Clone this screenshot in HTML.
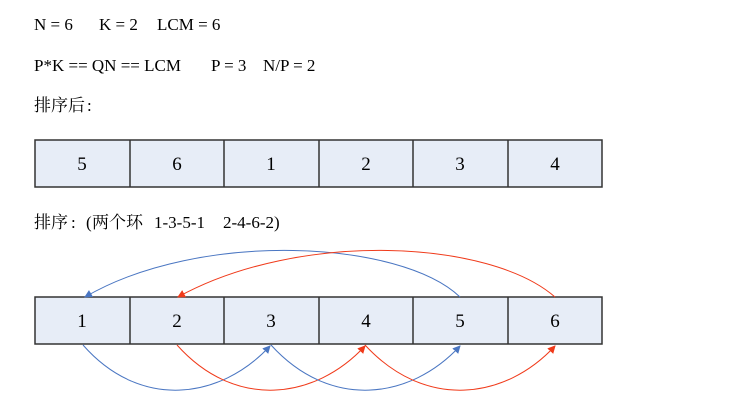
<!DOCTYPE html>
<html><head><meta charset="utf-8"><style>
html,body{margin:0;padding:0;background:#fff;width:756px;height:404px;overflow:hidden}
</style></head><body>
<svg width="756" height="404" xmlns="http://www.w3.org/2000/svg" font-family="'Liberation Serif','Noto Serif CJK SC',serif" font-size="17" fill="#000">
<text x="34" y="30">N = 6</text>
<text x="99" y="30">K = 2</text>
<text x="157" y="30">LCM = 6</text>
<text x="34" y="71">P*K == QN == LCM</text>
<text x="211" y="71">P = 3</text>
<text x="263" y="71">N/P = 2</text>
<text x="34" y="111" font-family="'Noto Serif CJK SC',serif" font-size="17">排序后</text>
<text x="87" y="111">:</text>
<text x="34" y="228" font-family="'Noto Serif CJK SC',serif" font-size="17">排序</text>
<text x="71" y="228">:</text>
<text x="86" y="228">(</text>
<text x="92" y="228" font-family="'Noto Serif CJK SC',serif" font-size="17">两个环</text>
<text x="154" y="228">1-3-5-1</text>
<text x="223" y="228">2-4-6-2)</text>
<g stroke="#333" stroke-width="1.5" fill="#e7edf7">
<rect x="35" y="140" width="567" height="47"/>
<line x1="130" y1="140" x2="130" y2="187"/><line x1="224" y1="140" x2="224" y2="187"/><line x1="319" y1="140" x2="319" y2="187"/><line x1="413" y1="140" x2="413" y2="187"/><line x1="508" y1="140" x2="508" y2="187"/>
<rect x="35" y="297" width="567" height="47"/>
<line x1="130" y1="297" x2="130" y2="344"/><line x1="224" y1="297" x2="224" y2="344"/><line x1="319" y1="297" x2="319" y2="344"/><line x1="413" y1="297" x2="413" y2="344"/><line x1="508" y1="297" x2="508" y2="344"/>
</g>
<g font-size="19" text-anchor="middle">
<text x="82" y="170">5</text><text x="177" y="170">6</text><text x="271" y="170">1</text><text x="366" y="170">2</text><text x="460" y="170">3</text><text x="555" y="170">4</text>
<text x="82" y="327">1</text><text x="177" y="327">2</text><text x="271" y="327">3</text><text x="366" y="327">4</text><text x="460" y="327">5</text><text x="555" y="327">6</text>
</g>
<defs>
<marker id="b" markerWidth="8" markerHeight="8" refX="7" refY="4" orient="auto" markerUnits="userSpaceOnUse"><path d="M0,0 L8,4 L0,8z" fill="#4a76c2"/></marker>
<marker id="r" markerWidth="8" markerHeight="8" refX="7" refY="4" orient="auto" markerUnits="userSpaceOnUse"><path d="M0,0 L8,4 L0,8z" fill="#f03a1a"/></marker>
</defs>
<g fill="none" stroke-width="1">
<path d="M460,297 C400,240 200,230 85,297" stroke="#4a76c2" marker-end="url(#b)"/>
<path d="M555,297 C490,240 300,230 178,297" stroke="#f03a1a" marker-end="url(#r)"/>
<path d="M83,345 C140,410 220,400 270,346" stroke="#4a76c2" marker-end="url(#b)"/>
<path d="M177,345 C235,410 315,400 365,346" stroke="#f03a1a" marker-end="url(#r)"/>
<path d="M271,345 C330,410 410,400 460,346" stroke="#4a76c2" marker-end="url(#b)"/>
<path d="M365,345 C425,410 505,400 555,346" stroke="#f03a1a" marker-end="url(#r)"/>
</g>
</svg>
</body></html>
